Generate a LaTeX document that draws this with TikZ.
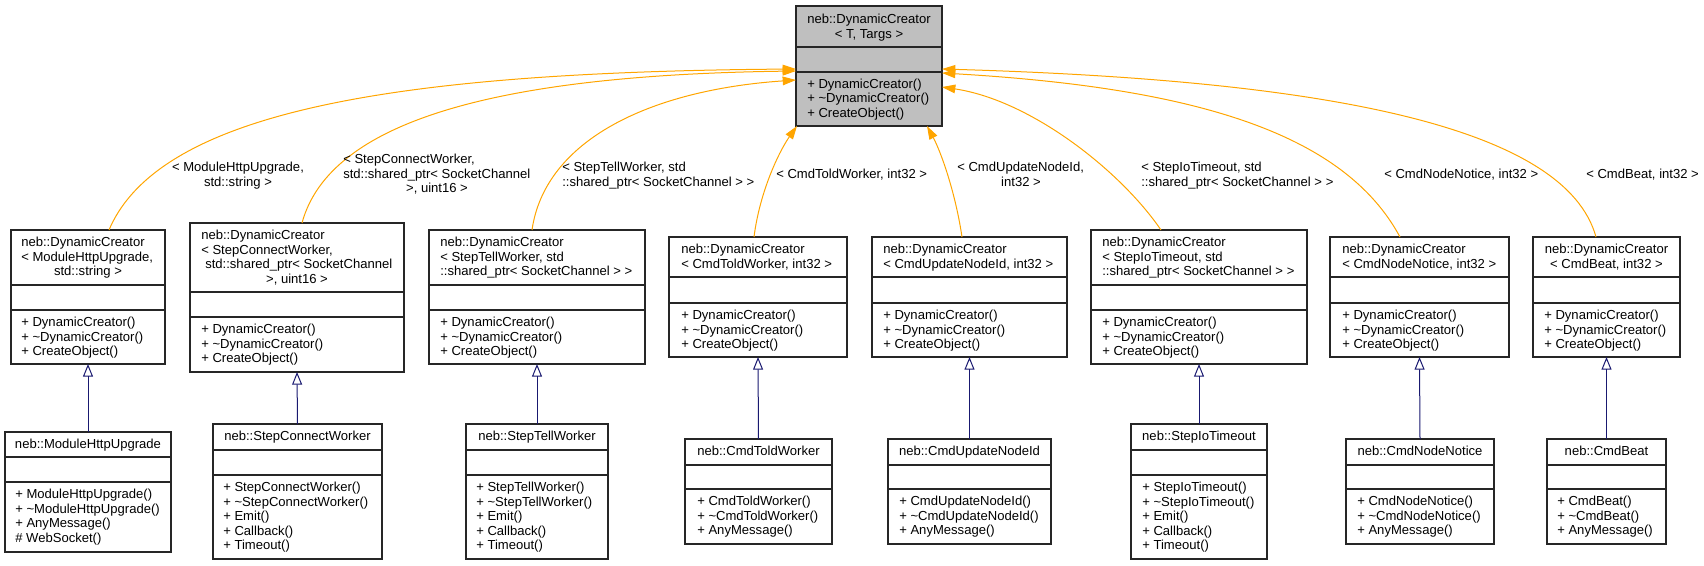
\documentclass[tikz,border=0pt]{standalone}
\usepackage{fontspec}
\setmainfont{Liberation Sans}
\usetikzlibrary{arrows.meta}
\definecolor{edgeorange}{HTML}{FFA500}
\definecolor{edgeblue}{HTML}{191970}
\definecolor{basegray}{HTML}{BFBFBF}
\newcommand{\pxu}{0.75pt}
\newcommand{\clsbox}[8][]{% opt, name, l, t, r, b, d1, d2
  \node[cls,#1, minimum width={(#5-#3)*0.75pt}, minimum height={(#6-#4)*0.75pt}] (#2) at (#3,#4) {};
  \draw[divline] (#3,#7) -- (#5,#7);
  \draw[divline] (#3,#8) -- (#5,#8);
}
\newcommand{\lns}[5]{% prefix, style, x, first baseline, list
  \foreach \lineitem [count=\i] in {#5} {\node[#2] (#1\i) at (#3,{#4+(\i-1)*14.5}) {\lineitem};}
}
\begin{document}
\begin{tikzpicture}[x=0.75pt,y=-0.75pt,
  cls/.style={draw=black!85, line width=0.95pt, inner sep=0pt, outer sep=0pt, anchor=north west, rectangle},
  divline/.style={draw=black!85, line width=0.95pt},
  txt/.style={inner sep=0pt, anchor=base west, font=\fontsize{9.8}{11}\selectfont},
  txtc/.style={txt, anchor=base},
  inh/.style={draw=edgeblue, line width=0.75pt, -{Triangle[open, length=9.5pt, width=7.5pt]}},
  tpl/.style={draw=edgeorange, line width=0.75pt, -{Triangle[length=10pt, width=6.5pt]}},
]
\useasboundingbox (0,0) rectangle (1704,565);

% ---- base template class
\clsbox[fill=basegray]{T}{796}{6}{942}{126}{47}{72}
\lns{Tt}{txtc}{869}{23.5}{{neb::DynamicCreator},{< T, Targs >}}
\lns{Tm}{txt}{807}{88}{{+ DynamicCreator()},{+ \textasciitilde DynamicCreator()},{+ CreateObject()}}

% ---- template instantiations
\clsbox{C1}{11}{230}{165}{364}{285}{310}
\lns{C1t}{txt}{21}{246.5}{{neb::DynamicCreator},{< ModuleHttpUpgrade,}}
\node[txtc] (C1t3) at (88,275.5) {std::string >};
\lns{C1m}{txt}{21}{326.5}{{+ DynamicCreator()},{+ \textasciitilde DynamicCreator()},{+ CreateObject()}}

\clsbox{C2}{190}{223}{404}{372}{292}{317}
\lns{C2t}{txt}{201}{239.5}{{neb::DynamicCreator},{< StepConnectWorker,}}
\node[txt] (C2t3) at (205,268.5) {std::shared\_ptr< SocketChannel};
\node[txtc] (C2t4) at (297,283) {>, uint16 >};
\lns{C2m}{txt}{201}{333.5}{{+ DynamicCreator()},{+ \textasciitilde DynamicCreator()},{+ CreateObject()}}

\clsbox{C3}{429}{230}{645}{364}{285}{310}
\lns{C3t}{txt}{440}{246.5}{{neb::DynamicCreator},{< StepTellWorker, std},{::shared\_ptr< SocketChannel > >}}
\lns{C3m}{txt}{440}{326.5}{{+ DynamicCreator()},{+ \textasciitilde DynamicCreator()},{+ CreateObject()}}

\clsbox{C4}{669}{237}{847}{357}{277}{303}
\lns{C4t}{txt}{681}{253.5}{{neb::DynamicCreator},{< CmdToldWorker, int32 >}}
\lns{C4m}{txt}{681}{319.5}{{+ DynamicCreator()},{+ \textasciitilde DynamicCreator()},{+ CreateObject()}}

\clsbox{C5}{872}{237}{1067}{357}{277}{303}
\lns{C5t}{txt}{883}{253.5}{{neb::DynamicCreator},{< CmdUpdateNodeId, int32 >}}
\lns{C5m}{txt}{883}{319.5}{{+ DynamicCreator()},{+ \textasciitilde DynamicCreator()},{+ CreateObject()}}

\clsbox{C6}{1091}{230}{1307}{364}{285}{310}
\lns{C6t}{txt}{1102}{246.5}{{neb::DynamicCreator},{< StepIoTimeout, std},{::shared\_ptr< SocketChannel > >}}
\lns{C6m}{txt}{1102}{326.5}{{+ DynamicCreator()},{+ \textasciitilde DynamicCreator()},{+ CreateObject()}}

\clsbox{C7}{1330}{237}{1509}{357}{277}{303}
\lns{C7t}{txt}{1342}{253.5}{{neb::DynamicCreator},{< CmdNodeNotice, int32 >}}
\lns{C7m}{txt}{1342}{319.5}{{+ DynamicCreator()},{+ \textasciitilde DynamicCreator()},{+ CreateObject()}}

\clsbox{C8}{1533}{237}{1680}{357}{277}{303}
\lns{C8t}{txtc}{1606.5}{253.5}{{neb::DynamicCreator},{< CmdBeat, int32 >}}
\lns{C8m}{txt}{1544}{319.5}{{+ DynamicCreator()},{+ \textasciitilde DynamicCreator()},{+ CreateObject()}}

% ---- derived classes
\clsbox{B1}{5}{432}{171}{552}{457}{482}
\node[txtc] (B1t) at (88,448.5) {neb::ModuleHttpUpgrade};
\lns{B1m}{txt}{15}{498.5}{{+ ModuleHttpUpgrade()},{+ \textasciitilde ModuleHttpUpgrade()},{+ AnyMessage()},{\# WebSocket()}}

\clsbox{B2}{213}{424}{382}{559}{450}{475}
\node[txtc] (B2t) at (297.5,440.5) {neb::StepConnectWorker};
\lns{B2m}{txt}{223}{491.5}{{+ StepConnectWorker()},{+ \textasciitilde StepConnectWorker()},{+ Emit()},{+ Callback()},{+ Timeout()}}

\clsbox{B3}{466}{424}{608}{559}{450}{475}
\node[txtc] (B3t) at (537,440.5) {neb::StepTellWorker};
\lns{B3m}{txt}{476}{491.5}{{+ StepTellWorker()},{+ \textasciitilde StepTellWorker()},{+ Emit()},{+ Callback()},{+ Timeout()}}

\clsbox{B4}{685}{439}{832}{544}{465}{489}
\node[txtc] (B4t) at (758.5,455.5) {neb::CmdToldWorker};
\lns{B4m}{txt}{697}{505.5}{{+ CmdToldWorker()},{+ \textasciitilde CmdToldWorker()},{+ AnyMessage()}}

\clsbox{B5}{888}{439}{1051}{544}{465}{489}
\node[txtc] (B5t) at (969.5,455.5) {neb::CmdUpdateNodeId};
\lns{B5m}{txt}{899}{505.5}{{+ CmdUpdateNodeId()},{+ \textasciitilde CmdUpdateNodeId()},{+ AnyMessage()}}

\clsbox{B6}{1131}{424}{1267}{559}{450}{475}
\node[txtc] (B6t) at (1199,440.5) {neb::StepIoTimeout};
\lns{B6m}{txt}{1142}{491.5}{{+ StepIoTimeout()},{+ \textasciitilde StepIoTimeout()},{+ Emit()},{+ Callback()},{+ Timeout()}}

\clsbox{B7}{1346}{439}{1494}{544}{465}{489}
\node[txtc] (B7t) at (1420,455.5) {neb::CmdNodeNotice};
\lns{B7m}{txt}{1357}{505.5}{{+ CmdNodeNotice()},{+ \textasciitilde CmdNodeNotice()},{+ AnyMessage()}}

\clsbox{B8}{1547}{439}{1666}{544}{465}{489}
\node[txtc] (B8t) at (1606.5,455.5) {neb::CmdBeat};
\lns{B8m}{txt}{1557}{505.5}{{+ CmdBeat()},{+ \textasciitilde CmdBeat()},{+ AnyMessage()}}

% ---- inheritance edges
\draw[inh] (B1.north) -- (C1.south);
\draw[inh] (B2.north) -- (C2.south);
\draw[inh] (B3.north) -- (C3.south);
\draw[inh] (B4.north) -- (C4.south);
\draw[inh] (B5.north) -- (C5.south);
\draw[inh] (B6.north) -- (C6.south);
\draw[inh] (B7.north) -- (C7.south);
\draw[inh] (B8.north) -- (C8.south);

% ---- template instantiation edges
\draw[tpl] ([xshift=21*\pxu]C1.north) .. controls (160,110) and (400,72) .. ([yshift=-3*\pxu]T.west);
\draw[tpl] ([xshift=5*\pxu]C2.north) .. controls (330,120) and (500,75) .. ([yshift=-5*\pxu]T.west);
\draw[tpl] ([xshift=-5*\pxu]C3.north) .. controls (545,140) and (650,90) .. ([yshift=-14*\pxu]T.west);
\draw[tpl] ([xshift=-4*\pxu]C4.north) .. controls (760,190) and (780,150) .. ([xshift=1*\pxu]T.south west);
\draw[tpl] ([xshift=-7.5*\pxu]C5.north) .. controls (955,190) and (940,150) .. ([xshift=58*\pxu]T.south);
\draw[tpl] ([xshift=-38*\pxu]C6.north) .. controls (1120,170) and (1030,100) .. ([yshift=-21*\pxu]T.east);
\draw[tpl] ([xshift=-19.5*\pxu]C7.north) .. controls (1345,135) and (1200,88) .. ([yshift=-7*\pxu]T.east);
\draw[tpl] ([xshift=-10.5*\pxu]C8.north) .. controls (1565,125) and (1320,80) .. ([yshift=-3*\pxu]T.east);

% ---- edge labels
\node[txtc] (L1a) at (238,171.5) {< ModuleHttpUpgrade,};
\node[txtc] (L1b) at (238,186) {std::string >};
\node[txt] (L2a) at (343,163.5) {< StepConnectWorker,};
\node[txt] (L2b) at (343,178) {std::shared\_ptr< SocketChannel};
\node[txtc] (L2c) at (437,192.5) {>, uint16 >};
\node[txt] (L3a) at (562,171.5) {< StepTellWorker, std};
\node[txt] (L3b) at (562,186) {::shared\_ptr< SocketChannel > >};
\node[txt] (L4) at (776,178.5) {< CmdToldWorker, int32 >};
\node[txt] (L5a) at (957,171.5) {< CmdUpdateNodeId,};
\node[txtc] (L5b) at (1021,186) {int32 >};
\node[txt] (L6a) at (1141,171.5) {< StepIoTimeout, std};
\node[txt] (L6b) at (1141,186) {::shared\_ptr< SocketChannel > >};
\node[txt] (L7) at (1384,178.5) {< CmdNodeNotice, int32 >};
\node[txt] (L8) at (1586,178.5) {< CmdBeat, int32 >};
\end{tikzpicture}
\end{document}
